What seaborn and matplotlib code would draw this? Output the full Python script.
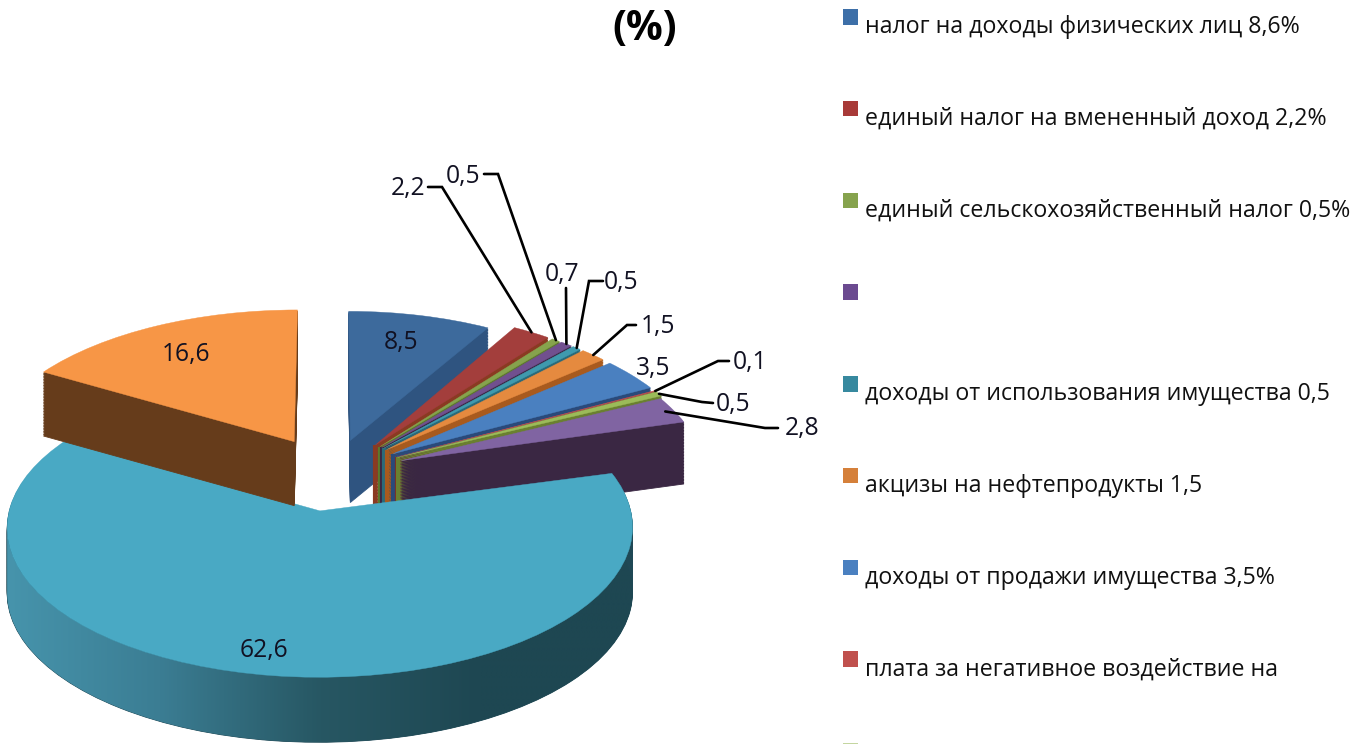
import numpy as np
import matplotlib
matplotlib.use("Agg")
import matplotlib.pyplot as plt
from matplotlib.patches import Patch, PathPatch
from matplotlib.path import Path
from matplotlib.transforms import Transform, Affine2D
from matplotlib.colors import LinearSegmentedColormap
import seaborn as sns

# ---- data ----
values = [8.5, 2.2, 0.5, 0.7, 0.5, 1.5, 3.5, 0.1, 0.5, 2.8, 62.6, 16.6]
value_labels = ["8,5", "2,2", "0,5", "0,7", "0,5", "1,5", "3,5", "0,1", "0,5", "2,8", "62,6", "16,6"]
legend_labels = [
    "налог на доходы физических лиц 8,6%",
    "единый налог на вмененный доход 2,2%",
    "единый сельскохозяйственный налог 0,5%",
    "",
    "доходы от использования имущества 0,5",
    "акцизы на нефтепродукты 1,5",
    "доходы от продажи имущества 3,5%",
    "плата за негативное воздействие на",
    "",
]
top_colors = ["#3d6a9c", "#a33e3c", "#86a34d", "#71508f", "#3f9aae", "#e58a3f",
              "#4a80c0", "#c0504d", "#9bbb59", "#8064a2", "#49a9c4", "#f79646"]
side_colors = ["#2f5480", "#8a3a22", "#5c7a2a", "#3a2743", "#2a6a7a", "#a85a1e",
               "#2a4a7a", "#7a2c2a", "#6a8030", "#3a2743", "#1f4855", "#663c1b"]
legend_colors = ["#3d6fa8", "#a83a38", "#86a34d", "#6b4a90", "#37899f", "#d5803a",
                 "#4a80c0", "#c0504d", "#c4d6a0"]
wall_stops = ["#4795ad", "#3b7d93", "#275763", "#1e4752", "#1e4752"]

sns.set_theme(style="white")
FONT = ["Open Sans", "DejaVu Sans"]
plt.rcParams["font.family"] = FONT

W, H = 1354, 744
fig = plt.figure(figsize=(W / 100, H / 100), dpi=100, facecolor="white")
ax = fig.add_axes([0, 0, 1, 1])


class Persp(Transform):
    """Tilted-plane view of the unit pie."""
    input_dims = 2
    output_dims = 2
    is_affine = False

    def __init__(self, k):
        super().__init__()
        self.k = k

    def transform_non_affine(self, v):
        v = np.asarray(v, dtype=float)
        w = 1 + self.k * v[:, 1]
        return np.column_stack((v[:, 0] / w, v[:, 1] / w))


CX, CY, RX, RY, KP, DEPTH, EXPL = 335, 470, 305, 151.7, 0.108, 62, 0.22
persp = Persp(KP)
to_px = Affine2D().scale(RX, -RY).translate(CX, CY)
view = persp + to_px
pie_args = dict(explode=[EXPL] * len(values), startangle=90, counterclock=False, normalize=True)
paint_order = [0, 1, 2, 3, 4, 5, 6, 7, 8, 9, 10, 11]
rank = {s: i for i, s in enumerate(paint_order)}

# per-slice placement refinements: dx, dy, x scale, y scale about the slice apex
placement = {10: (-6, 7, 0.995, 0.93), 11: (-8, 0, 1.03, 1.0), 9: (4, 2, 1.0, 1.02),
             0: (-2, 2, 1.0, 0.985)}
for s in range(1, 9):
    placement[s] = (3, 2, 1.02, 1.02)
depths = {10: 65, 11: 64}


def slice_tf(wd, i):
    apex = view.transform(np.array([wd.center]))[0]
    dx, dy, sx, sy = placement[i]
    return Affine2D().translate(-apex[0], -apex[1]).scale(sx, sy).translate(apex[0] + dx, apex[1] + dy)


# side walls: stacked copies of the pie from the deepest upwards
for frac in np.linspace(1, 0.02, 42):
    wedges, _ = ax.pie(values, colors=side_colors,
                       wedgeprops=dict(linewidth=0.6), **pie_args)
    for i, wd in enumerate(wedges):
        wd.set_edgecolor(side_colors[i])
        d = frac * depths.get(i, DEPTH)
        wd.set_transform(view + slice_tf(wd, i) + Affine2D().translate(0, d) + ax.transData)
        wd.set_zorder(1 + rank[i])

# top faces
tops, _ = ax.pie(values, colors=top_colors, wedgeprops=dict(linewidth=0.3), **pie_args)
for i, wd in enumerate(tops):
    wd.set_edgecolor(top_colors[i])
    wd.set_transform(view + slice_tf(wd, i) + ax.transData)
    wd.set_zorder(1.5 + rank[i])


def arc_point(i, angle, r=1.0):
    wd = tops[i]
    a = np.deg2rad(angle)
    p = np.array([[wd.center[0] + r * wd.r * np.cos(a), wd.center[1] + r * wd.r * np.sin(a)]])
    return slice_tf(wd, i).transform(view.transform(p))[0]


# clean vertical edges at the apex of the narrow slices
for i in range(1, 9):
    apex = arc_point(i, 0.0, 0.0)
    ax.plot([apex[0], apex[0]], [apex[1], apex[1] + DEPTH], color=side_colors[i], lw=3.0,
            solid_capstyle="butt", zorder=1.2 + rank[i], scalex=False, scaley=False)

# shaded outer wall of the largest slice, from its leftmost point round the front
ibig = int(np.argmax(values))
big = tops[ibig]
angles = np.linspace(big.theta1, big.theta2, 400)
arc = np.array([arc_point(ibig, a) for a in angles])
arc = arc[int(np.argmin(arc[:, 0])):]
wall = np.vstack((arc, (arc + [0, depths[ibig]])[::-1], arc[:1]))
cmap = LinearSegmentedColormap.from_list("wall", wall_stops)
grad = np.linspace(0, 1, 256).reshape(1, -1)
img = ax.imshow(grad, extent=(0, 640, 760, 400), aspect="auto", cmap=cmap,
                zorder=1 + rank[ibig] + 0.2, interpolation="bilinear")
img.set_clip_path(PathPatch(Path(wall), transform=ax.transData))

ax.set_aspect("auto")
ax.set_xlim(0, W)
ax.set_ylim(H, 0)
ax.axis("off")

# value labels without leaders
LABEL_FS = 17.7
for i, (x, y) in {0: (401, 342), 6: (653, 368), 10: (264, 650), 11: (186, 354)}.items():
    ax.text(x, y, value_labels[i], ha="center", va="center", fontsize=LABEL_FS,
            color="#111122", zorder=30)

# value labels with leader lines: label position, elbow start, elbow end, radial reach
leaders = {
    1: ((408, 189), (428, 187), (442, 187), 1.0),
    2: ((463, 176), (484, 174), (498, 174), 1.0),
    3: ((562, 275), None, (566, 288), 1.0),
    4: ((621, 283), (603, 281), (589, 281), 1.0),
    5: ((658, 327), (636, 325), (627, 325), 1.0),
    7: ((750, 363), (729, 361), (718, 361), 1.0),
    8: ((733, 404), (713, 403), (702, 402), 1.0),
    9: ((802, 428), (778, 428), (765, 428), 0.97),
}
for i, (lab, a, b, reach) in leaders.items():
    end = arc_point(i, 0.5 * (tops[i].theta1 + tops[i].theta2), reach)
    pts = [p for p in (a, b) if p is not None] + [tuple(end)]
    ax.plot([p[0] for p in pts], [p[1] for p in pts], color="black", lw=1.9,
            solid_joinstyle="miter", zorder=25, scaley=False, scalex=False)
    ax.text(lab[0], lab[1], value_labels[i], ha="center", va="center",
            fontsize=LABEL_FS, color="#111122", zorder=30)

# title
ax.text(645, 29, "(%)", ha="center", va="center", fontsize=29.5, fontweight="bold",
        color="black", zorder=30)

# legend
handles = [Patch(facecolor=c, edgecolor="none") for c in legend_colors]
FS = 16.65
leg = ax.legend(handles, legend_labels, loc="upper left",
                bbox_to_anchor=(843 / W, 1 - 7 / H), bbox_transform=fig.transFigure,
                frameon=False, fontsize=FS, handlelength=0.65, handleheight=0.65,
                handletextpad=0.32, labelspacing=2.93, borderpad=0, borderaxespad=0,
                labelcolor="#111111")
for t in leg.get_texts():
    t.set_position((0, -8))

fig.savefig("out.png", dpi=100, facecolor="white")
